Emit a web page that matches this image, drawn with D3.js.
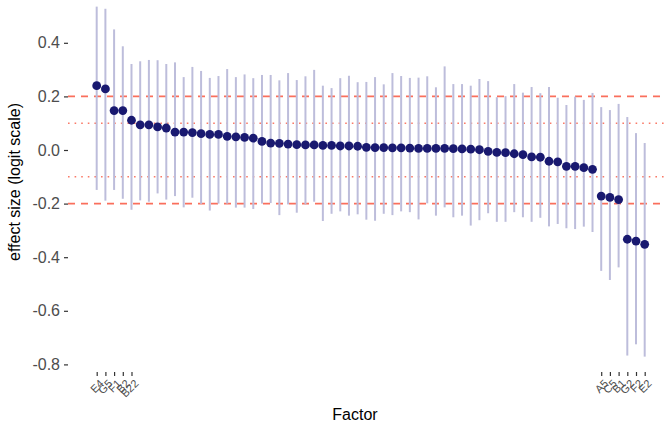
<!DOCTYPE html>
<html lang="en">
<head>
    <meta charset="UTF-8">
    <title>Effect sizes by factor</title>
    <script src="https://d3js.org/d3.v7.min.js"></script>
    <style>
        body { margin: 0; background: #fff; }
        text { font-family: "Liberation Sans", Arial, sans-serif; }
    </style>
</head>
<body>
    <svg width="672" height="426"></svg>
    <script>
        // point estimates, sorted from largest to smallest
        const estimate = [
            0.240, 0.228, 0.147, 0.147, 0.111, 0.094, 0.094, 0.086, 0.082, 0.067,
            0.067, 0.065, 0.061, 0.058, 0.058, 0.051, 0.049, 0.047, 0.044, 0.032,
            0.026, 0.025, 0.022, 0.020, 0.019, 0.019, 0.017, 0.017, 0.015, 0.015,
            0.014, 0.010, 0.009, 0.009, 0.008, 0.008, 0.007, 0.006, 0.006, 0.006,
            0.006, 0.005, 0.004, 0.003, 0.001, -0.005, -0.009, -0.010, -0.014, -0.017,
            -0.026, -0.027, -0.042, -0.044, -0.061, -0.061, -0.066, -0.072, -0.172, -0.177,
            -0.185, -0.333, -0.340, -0.352
        ];
        const upper = [
            0.535, 0.527, 0.450, 0.387, 0.321, 0.331, 0.336, 0.335, 0.321, 0.327,
            0.272, 0.310, 0.295, 0.269, 0.276, 0.302, 0.272, 0.282, 0.268, 0.280,
            0.280, 0.260, 0.287, 0.261, 0.275, 0.299, 0.240, 0.231, 0.268, 0.277,
            0.253, 0.254, 0.272, 0.245, 0.287, 0.276, 0.269, 0.270, 0.275, 0.234,
            0.312, 0.246, 0.246, 0.240, 0.265, 0.257, 0.197, 0.201, 0.246, 0.214,
            0.235, 0.212, 0.235, 0.195, 0.168, 0.199, 0.187, 0.213, 0.160, 0.149,
            0.172, 0.123, 0.063, 0.026
        ];
        const lower = [
            -0.149, -0.189, -0.149, -0.182, -0.223, -0.188, -0.193, -0.162, -0.185, -0.172,
            -0.214, -0.178, -0.201, -0.226, -0.200, -0.200, -0.215, -0.215, -0.220, -0.200,
            -0.198, -0.243, -0.203, -0.234, -0.203, -0.193, -0.265, -0.238, -0.229, -0.245,
            -0.240, -0.260, -0.264, -0.238, -0.243, -0.229, -0.232, -0.259, -0.199, -0.245,
            -0.214, -0.251, -0.245, -0.282, -0.262, -0.236, -0.268, -0.268, -0.232, -0.251,
            -0.268, -0.253, -0.285, -0.276, -0.292, -0.295, -0.286, -0.306, -0.451, -0.485,
            -0.438, -0.767, -0.725, -0.771
        ];
        // only the factors outside +-0.1 get a label
        const labelIndex = [0, 1, 2, 3, 4, 58, 59, 60, 61, 62, 63];
        const labelText = ["E4", "G5", "F1", "B2", "B22", "A5", "C5", "B1", "G2", "F2", "E2"];
        const yTicks = [-0.8, -0.6, -0.4, -0.2, 0.0, 0.2, 0.4];
        const dashedAt = [0.2, -0.2];
        const dottedAt = [0.1, -0.1];

        const data = estimate.map((d, i) => ({ i: i, est: d, lo: lower[i], hi: upper[i] }));

        const svg = d3.select("svg");
        const left = 68, right = 665, bottom = 372;

        const x = d3.scalePoint().domain(d3.range(estimate.length)).range([96.7, 644.7]);
        const y = d3.scaleLinear().domain([-0.8, 0.4]).range([364.4, 42.8]);

        // reference lines
        svg.selectAll("line.dash")
            .data(dashedAt)
            .enter()
            .append("line")
            .attr("x1", left).attr("x2", right)
            .attr("y1", d => y(d)).attr("y2", d => y(d))
            .attr("stroke", "#fa6f5c")
            .attr("stroke-width", 1.8)
            .attr("stroke-dasharray", "7,6");

        svg.selectAll("line.dot")
            .data(dottedAt)
            .enter()
            .append("line")
            .attr("x1", left).attr("x2", right)
            .attr("y1", d => y(d)).attr("y2", d => y(d))
            .attr("stroke", "#fa7a68")
            .attr("stroke-width", 1.5)
            .attr("stroke-dasharray", "1.6,5");

        // intervals
        svg.selectAll("line.bar")
            .data(data)
            .enter()
            .append("line")
            .attr("x1", d => x(d.i)).attr("x2", d => x(d.i))
            .attr("y1", d => y(d.hi)).attr("y2", d => y(d.lo))
            .attr("stroke", "#bdbddb")
            .attr("stroke-width", 2);

        // points
        svg.selectAll("circle")
            .data(data)
            .enter()
            .append("circle")
            .attr("cx", d => x(d.i))
            .attr("cy", d => y(d.est))
            .attr("r", 4.4)
            .attr("fill", "#191970");

        // y axis
        const yAxis = svg.append("g")
            .attr("transform", `translate(${left},0)`)
            .call(d3.axisLeft(y).tickValues(yTicks).tickSize(4).tickPadding(4)
                .tickFormat(d => d.toFixed(1)));
        yAxis.select(".domain").remove();
        yAxis.selectAll(".tick line").attr("stroke", "#333").attr("stroke-width", 1.2);
        yAxis.selectAll(".tick text")
            .attr("fill", "#4d4d4d")
            .style("font-size", "16px");

        // x axis, labelled factors only
        const xAxis = svg.append("g")
            .attr("transform", `translate(0,${bottom})`)
            .call(d3.axisBottom(x).tickValues(labelIndex).tickSize(4).tickPadding(2)
                .tickFormat(d => labelText[labelIndex.indexOf(d)]));
        xAxis.select(".domain").remove();
        xAxis.selectAll(".tick line").attr("stroke", "#333").attr("stroke-width", 1.2);
        xAxis.selectAll(".tick text")
            .attr("fill", "#4d4d4d")
            .style("font-size", "11px")
            .attr("text-anchor", "end")
            .attr("dy", null)
            .attr("transform", "translate(3,8) rotate(-45)");

        // axis titles
        svg.append("text")
            .attr("x", 355).attr("y", 420)
            .attr("text-anchor", "middle")
            .style("font-size", "16px")
            .text("Factor");

        svg.append("text")
            .attr("transform", "translate(20,182) rotate(-90)")
            .attr("text-anchor", "middle")
            .style("font-size", "16px")
            .text("effect size (logit scale)");
    </script>
</body>
</html>
